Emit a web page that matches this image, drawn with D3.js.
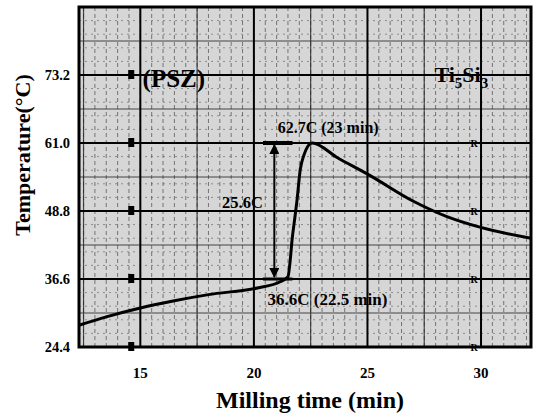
<!DOCTYPE html>
<html><head><meta charset="utf-8">
<script src="https://cdn.jsdelivr.net/npm/d3@7"></script>
<style>
html,body{margin:0;padding:0;background:#fff;}
svg text{font-family:"Liberation Serif","Times New Roman",serif;font-weight:bold;fill:#000;}
</style></head>
<body><svg id="c" width="539" height="418"></svg>
<script>
// ---- data ----
const timeMin = [12.3, 13.5, 15.0, 16.5, 18.0, 20.15, 21.16, 21.5, 21.6, 21.68, 21.8, 21.9, 22.04, 22.2, 22.56, 23.7, 25.1, 27.0, 28.5, 29.95, 32.2];
const tempC   = [28.3, 29.8, 31.4, 32.7, 33.8, 35.0, 36.1, 37.0, 40.0, 43.6, 47.5, 50.8, 56.2, 58.8, 61.0, 58.3, 55.2, 50.6, 47.8, 45.9, 43.9];
const xTicks = [15, 20, 25, 30];
const yTicks = [24.4, 36.6, 48.8, 61.0, 73.2];
const yTickLabels = ["24.4", "36.6", "48.8", "61.0", "73.2"];
const xTitle = "Milling time (min)";
const yTitle = "Temperature(\u00B0C)";
const peakLabel = "62.7C (23 min)";
const startLabel = "36.6C (22.5 min)";
const deltaLabel = "25.6C";

const svg = d3.select("#c");
const L = 79, R = 531, T = 7, B = 347;
const x = d3.scaleLinear().domain([12.3, 32.2]).range([L, R]);
const y = d3.scaleLinear().domain([24.4, 85.4]).range([B, T]);

// plot background (scanned paper tone)
svg.append("rect").attr("x", L).attr("y", T).attr("width", R - L).attr("height", B - T).attr("fill", "#d6d6d6");

const g = svg.append("g");
// fine dashed verticals (every 0.5 min)
const fineX = d3.range(12.5, 32.2, 0.5);
g.selectAll(".fx").data(fineX).join("line")
  .attr("x1", d => x(d)).attr("x2", d => x(d)).attr("y1", T).attr("y2", B)
  .attr("stroke", "#333").attr("stroke-width", 1).attr("stroke-dasharray", "4,3").attr("opacity", 0.6);
// fine dashed horizontals
const fineY = d3.range(24.4 + 2.44, 85.4, 2.44);
g.selectAll(".fy").data(fineY).join("line")
  .attr("x1", L).attr("x2", R).attr("y1", d => y(d)).attr("y2", d => y(d))
  .attr("stroke", "#444").attr("stroke-width", 1).attr("stroke-dasharray", "2,4").attr("opacity", 0.5);
// minor grid (half intervals)
const minorX = [12.5, 17.5, 22.5, 27.5];
g.selectAll(".mx").data(minorX).join("line")
  .attr("x1", d => x(d)).attr("x2", d => x(d)).attr("y1", T).attr("y2", B)
  .attr("stroke", "#222").attr("stroke-width", 1.2).attr("opacity", 0.8);
const minorY = [30.5, 42.7, 54.9, 67.1, 79.3];
g.selectAll(".my").data(minorY).join("line")
  .attr("x1", L).attr("x2", R).attr("y1", d => y(d)).attr("y2", d => y(d))
  .attr("stroke", "#222").attr("stroke-width", 1.2).attr("opacity", 0.8);
// major grid
g.selectAll(".gx").data(xTicks).join("line")
  .attr("x1", d => x(d)).attr("x2", d => x(d)).attr("y1", T).attr("y2", B)
  .attr("stroke", "#000").attr("stroke-width", 2);
g.selectAll(".gy").data(yTicks.slice(1)).join("line")
  .attr("x1", L).attr("x2", R).attr("y1", d => y(d)).attr("y2", d => y(d))
  .attr("stroke", "#000").attr("stroke-width", 2);

// chart-paper marks
const markL = [73.2, 61.0, 48.8, 36.6, 24.4];
g.selectAll(".ml").data(markL).join("rect")
  .attr("x", x(14.6) - 3).attr("y", d => y(d) - 5).attr("width", 6).attr("height", 9).attr("fill", "#000");
const markR = [61.0, 48.8, 36.6, 24.4];
g.selectAll(".mr").data(markR).join("text")
  .attr("x", x(29.7)).attr("y", d => y(d) + 4).attr("font-size", 10).attr("text-anchor", "middle").text("R");

// frame
svg.append("rect").attr("x", L).attr("y", T).attr("width", R - L).attr("height", B - T)
  .attr("fill", "none").attr("stroke", "#000").attr("stroke-width", 3);

// axes labels
svg.selectAll(".yt").data(yTicks).join("text")
  .attr("x", 70).attr("y", d => y(d) + 5).attr("text-anchor", "end").attr("font-size", 14.5)
  .text((d, i) => yTickLabels[i]);
svg.selectAll(".xt").data(xTicks).join("text")
  .attr("x", d => x(d)).attr("y", 378).attr("text-anchor", "middle").attr("font-size", 15)
  .text(d => d);
svg.append("text").attr("x", 310).attr("y", 408).attr("text-anchor", "middle").attr("font-size", 24).text(xTitle);
svg.append("text").attr("transform", "translate(30,155) rotate(-90)").attr("text-anchor", "middle")
  .attr("font-size", 22).text(yTitle);

// curve
const line = d3.line().x((d, i) => x(timeMin[i])).y((d, i) => y(tempC[i])).curve(d3.curveMonotoneX);
svg.append("path").attr("d", line(tempC)).attr("fill", "none").attr("stroke", "#000").attr("stroke-width", 3);

// annotation arrow
const defs = svg.append("defs");
defs.append("marker").attr("id", "ah").attr("viewBox", "0 0 10 10").attr("refX", 9).attr("refY", 5)
  .attr("markerWidth", 5).attr("markerHeight", 5).attr("orient", "auto-start-reverse")
  .append("path").attr("d", "M0,0 L10,5 L0,10 z").attr("fill", "#000");
const ax = 20.9;
svg.append("line").attr("x1", x(ax)).attr("x2", x(ax)).attr("y1", y(61.0) + 2).attr("y2", y(36.6) - 2)
  .attr("stroke", "#000").attr("stroke-width", 2).attr("marker-start", "url(#ah)").attr("marker-end", "url(#ah)");
svg.append("line").attr("x1", x(20.4)).attr("x2", x(21.7)).attr("y1", y(61.0)).attr("y2", y(61.0))
  .attr("stroke", "#000").attr("stroke-width", 4);
svg.append("line").attr("x1", x(20.4)).attr("x2", x(21.7)).attr("y1", y(36.6)).attr("y2", y(36.6))
  .attr("stroke", "#000").attr("stroke-width", 3);

// annotation texts
svg.append("text").attr("x", x(21.05)).attr("y", y(61.0) - 10).attr("font-size", 16).text(peakLabel);
svg.append("text").attr("x", x(18.6)).attr("y", y(48.8) - 3).attr("font-size", 16.5).text(deltaLabel);
svg.append("text").attr("x", x(20.6)).attr("y", y(36.6) + 26).attr("font-size", 17).text(startLabel);
svg.append("text").attr("x", x(15.1)).attr("y", y(73.2) + 12).attr("font-size", 25).text("(PSZ)");
const ti = svg.append("text").attr("x", x(27.95)).attr("y", y(73.2) + 7).attr("font-size", 22);
ti.append("tspan").text("Ti");
ti.append("tspan").attr("font-size", 15).attr("dy", 6).text("5");
ti.append("tspan").attr("dy", -6).text("Si");
ti.append("tspan").attr("font-size", 15).attr("dy", 6).text("3");
</script></body></html>
